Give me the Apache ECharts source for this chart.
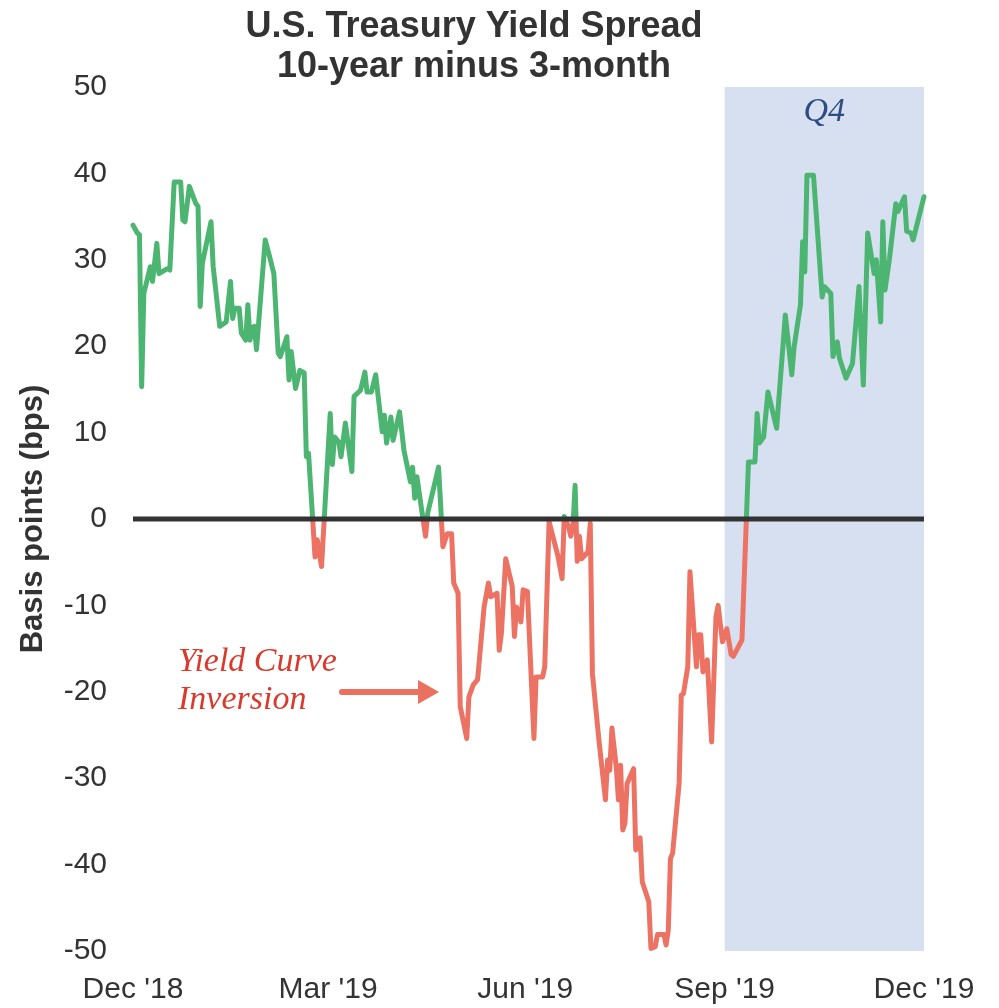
<!DOCTYPE html>
<html>
<head>
<meta charset="utf-8">
<title>U.S. Treasury Yield Spread</title>
<script src="https://cdn.jsdelivr.net/npm/echarts@6/dist/echarts.min.js"></script>
<style>
  html, body { margin: 0; padding: 0; background: #fff; }
  #chart { width: 999px; height: 1008px; }
</style>
</head>
<body>
<div id="chart"></div>
<script>
// spread 10y - 3m, in bps
const spreadDates = [
  '2018-12-31', '2019-01-02', '2019-01-03', '2019-01-04', '2019-01-05', '2019-01-08', '2019-01-09', '2019-01-11',
  '2019-01-12', '2019-01-16', '2019-01-17', '2019-01-19', '2019-01-22', '2019-01-23', '2019-01-24', '2019-01-26',
  '2019-01-29', '2019-01-30', '2019-01-31', '2019-02-01', '2019-02-05', '2019-02-06', '2019-02-07', '2019-02-09',
  '2019-02-12', '2019-02-14', '2019-02-15', '2019-02-16', '2019-02-18', '2019-02-19', '2019-02-21', '2019-02-22',
  '2019-02-23', '2019-02-24', '2019-02-25', '2019-02-26', '2019-03-02', '2019-03-04', '2019-03-06', '2019-03-08',
  '2019-03-09', '2019-03-12', '2019-03-13', '2019-03-14', '2019-03-16', '2019-03-18', '2019-03-20', '2019-03-21',
  '2019-03-22', '2019-03-25', '2019-03-26', '2019-03-28', '2019-04-01', '2019-04-02', '2019-04-03', '2019-04-05',
  '2019-04-06', '2019-04-08', '2019-04-11', '2019-04-12', '2019-04-15', '2019-04-17', '2019-04-18', '2019-04-20',
  '2019-04-22', '2019-04-25', '2019-04-26', '2019-04-27', '2019-04-29', '2019-04-30', '2019-05-03', '2019-05-05',
  '2019-05-08', '2019-05-09', '2019-05-10', '2019-05-11', '2019-05-13', '2019-05-15', '2019-05-16', '2019-05-21',
  '2019-05-23', '2019-05-25', '2019-05-27', '2019-05-28', '2019-05-30', '2019-05-31', '2019-06-03', '2019-06-04',
  '2019-06-06', '2019-06-08', '2019-06-11', '2019-06-13', '2019-06-14', '2019-06-17', '2019-06-18', '2019-06-19',
  '2019-06-21', '2019-06-24', '2019-06-25', '2019-06-26', '2019-06-28', '2019-06-29', '2019-07-01', '2019-07-04',
  '2019-07-05', '2019-07-08', '2019-07-09', '2019-07-11', '2019-07-12', '2019-07-15', '2019-07-17', '2019-07-18',
  '2019-07-20', '2019-07-21', '2019-07-22', '2019-07-23', '2019-07-24', '2019-07-25', '2019-07-26', '2019-07-29',
  '2019-07-30', '2019-07-31', '2019-08-03', '2019-08-06', '2019-08-07', '2019-08-08', '2019-08-09', '2019-08-11',
  '2019-08-12', '2019-08-13', '2019-08-14', '2019-08-15', '2019-08-16', '2019-08-19', '2019-08-20', '2019-08-22',
  '2019-08-23', '2019-08-26', '2019-08-27', '2019-08-29', '2019-08-30', '2019-09-02', '2019-09-03', '2019-09-04',
  '2019-09-05', '2019-09-06', '2019-09-09', '2019-09-10', '2019-09-11', '2019-09-13', '2019-09-14', '2019-09-17',
  '2019-09-18', '2019-09-19', '2019-09-20', '2019-09-22', '2019-09-24', '2019-09-26', '2019-09-27', '2019-09-29',
  '2019-10-01', '2019-10-03', '2019-10-04', '2019-10-08', '2019-10-11', '2019-10-14', '2019-10-15', '2019-10-16',
  '2019-10-18', '2019-10-20', '2019-10-24', '2019-10-28', '2019-10-31', '2019-11-01', '2019-11-04', '2019-11-05',
  '2019-11-06', '2019-11-07', '2019-11-10', '2019-11-14', '2019-11-15', '2019-11-18', '2019-11-19', '2019-11-21',
  '2019-11-22', '2019-11-25', '2019-11-28', '2019-12-01', '2019-12-03', '2019-12-05', '2019-12-08', '2019-12-09',
  '2019-12-11', '2019-12-12', '2019-12-13', '2019-12-15', '2019-12-18', '2019-12-19', '2019-12-22', '2019-12-23',
  '2019-12-25', '2019-12-26', '2019-12-31'
];
const spreadValues = [
  34.0, 33.1, 32.9, 15.3, 26.1, 29.2, 27.5, 31.9,
  28.4, 29.0, 28.8, 39.0, 39.0, 34.6, 34.4, 38.5,
  36.5, 36.2, 24.6, 29.6, 34.4, 29.2, 26.9, 22.3,
  22.8, 27.5, 23.2, 24.4, 24.4, 21.5, 20.7, 24.8,
  20.7, 22.1, 22.3, 19.6, 32.3, 30.4, 28.4, 19.2,
  18.8, 21.1, 16.1, 19.4, 15.1, 17.2, 16.9, 7.2,
  7.6, -4.4, -2.4, -5.5, 12.2, 6.3, 9.5, 8.9,
  7.2, 11.1, 5.5, 14.2, 14.9, 17.0, 14.7, 14.7,
  16.7, 10.1, 12.0, 8.8, 11.8, 9.1, 12.4, 8.0,
  4.3, 6.0, 2.4, 4.9, 1.4, -2.0, 0.7, 6.0,
  -3.2, -1.7, -1.7, -7.4, -8.6, -21.7, -25.4, -20.6,
  -19.2, -18.6, -10.2, -7.4, -9.0, -8.6, -15.2, -13.2,
  -4.6, -7.8, -13.6, -10.2, -11.9, -8.2, -8.4, -25.4,
  -18.3, -18.3, -17.1, -0.3, -1.3, -4.2, -6.9, 0.3,
  -0.9, -2.0, -0.9, 3.9, -4.9, -2.0, -4.6, -3.8,
  -0.5, -17.9, -25.6, -32.5, -27.9, -29.1, -24.2, -28.7,
  -32.5, -28.5, -36.0, -35.2, -30.6, -28.9, -38.3, -36.9,
  -42.0, -44.3, -49.7, -49.5, -48.1, -48.1, -49.3, -47.6,
  -39.3, -38.7, -30.6, -20.4, -20.2, -17.1, -6.1, -17.1,
  -13.4, -13.4, -17.7, -16.3, -25.8, -11.3, -10.0, -14.2,
  -12.7, -15.7, -15.9, -14.0, 6.6, 6.6, 12.2, 8.8,
  9.5, 14.7, 10.5, 23.6, 16.7, 19.8, 24.8, 32.1,
  28.6, 39.8, 39.8, 25.7, 26.9, 26.1, 18.8, 20.5,
  18.6, 16.3, 18.0, 26.9, 15.5, 33.1, 28.4, 30.0,
  22.8, 34.4, 26.5, 30.0, 36.5, 35.6, 37.3, 33.3,
  33.1, 32.3, 37.3
];

const xTickDates = ['2018-12-31', '2019-03-31', '2019-06-30', '2019-09-30', '2019-12-31'];
const xTickLabels = ["Dec '18", "Mar '19", "Jun '19", "Sep '19", "Dec '19"];
const q4Range = ['2019-09-30', '2019-12-31'];
const zeroLine = [0, 0];

const font = '"Liberation Sans", Arial, sans-serif';
const serif = '"Liberation Serif", "Times New Roman", serif';
const green = '#4cb571';
const red = '#ec7263';

// every calendar day on the axis, so labels sit on the quarter ends
function dayRange(from, to) {
  const out = [];
  const d = new Date(from + 'T00:00:00Z');
  const end = new Date(to + 'T00:00:00Z');
  while (d <= end) {
    out.push(d.toISOString().slice(0, 10));
    d.setUTCDate(d.getUTCDate() + 1);
  }
  return out;
}
const days = dayRange(xTickDates[0], xTickDates[xTickDates.length - 1]);
const dayIndex = (d) => days.indexOf(d);

const chart = echarts.init(document.getElementById('chart'), null, { renderer: 'canvas' });

chart.setOption({
  animation: false,
  textStyle: { fontFamily: font },
  title: {
    text: 'U.S. Treasury Yield Spread\n10-year minus 3-month',
    left: 469, top: 2, textAlign: 'center',
    textStyle: { fontSize: 36, fontWeight: 'bold', color: '#333', lineHeight: 40, fontFamily: font }
  },
  grid: { left: 133, right: 75, top: 87, bottom: 57 },
  xAxis: {
    type: 'category',
    data: days,
    boundaryGap: false,
    axisLine: { show: false },
    axisTick: { show: false },
    splitLine: { show: false },
    axisLabel: {
      interval: (index, value) => xTickDates.includes(value),
      formatter: (value) => xTickLabels[xTickDates.indexOf(value)],
      fontSize: 30, color: '#333', margin: 24
    }
  },
  yAxis: {
    type: 'value',
    min: -50, max: 50, interval: 10,
    name: 'Basis points (bps)',
    nameLocation: 'middle', nameGap: 84,
    nameTextStyle: { fontSize: 31, fontWeight: 'bold', color: '#333' },
    axisLine: { show: false },
    axisTick: { show: false },
    splitLine: { show: false },
    axisLabel: { fontSize: 30, color: '#333', margin: 26 }
  },
  visualMap: {
    show: false, type: 'piecewise', seriesIndex: 1, dimension: 1,
    pieces: [{ gt: 0, lte: 100, color: green }, { gt: -100, lte: 0, color: red }]
  },
  series: [
    {
      // Q4 shading
      type: 'line', data: [], z: 1, silent: true,
      markArea: {
        silent: true,
        itemStyle: { color: '#d6e0f1' },
        label: {
          show: true, position: 'insideTop', distance: 8,
          fontSize: 34, fontStyle: 'italic', fontFamily: serif, color: '#2e4b84'
        },
        data: [[{ name: 'Q4', xAxis: q4Range[0] }, { xAxis: q4Range[1] }]]
      }
    },
    {
      name: 'Spread',
      type: 'line', z: 3,
      data: spreadDates.map((d, i) => [dayIndex(d), spreadValues[i]]),
      showSymbol: false, symbol: 'none',
      lineStyle: { width: 5, join: 'round', cap: 'round' }
    },
    {
      name: 'Zero',
      type: 'line', z: 4,
      data: [[0, zeroLine[0]], [days.length - 1, zeroLine[1]]],
      symbol: 'none',
      lineStyle: { color: '#333', width: 5 }
    }
  ],
  graphic: [
    {
      type: 'text', left: 178, top: 643, z: 10,
      style: {
        text: 'Yield Curve\nInversion',
        fontSize: 34, fontStyle: 'italic', fontFamily: serif,
        fill: '#d93a2c', lineHeight: 38
      }
    },
    {
      type: 'line', z: 10,
      shape: { x1: 342, y1: 692, x2: 422, y2: 692 },
      style: { stroke: '#ea705f', lineWidth: 6, lineCap: 'round' }
    },
    {
      type: 'polygon', z: 10,
      shape: { points: [[418, 680], [439, 692], [418, 704]] },
      style: { fill: '#ea705f' }
    }
  ]
});
</script>
</body>
</html>
